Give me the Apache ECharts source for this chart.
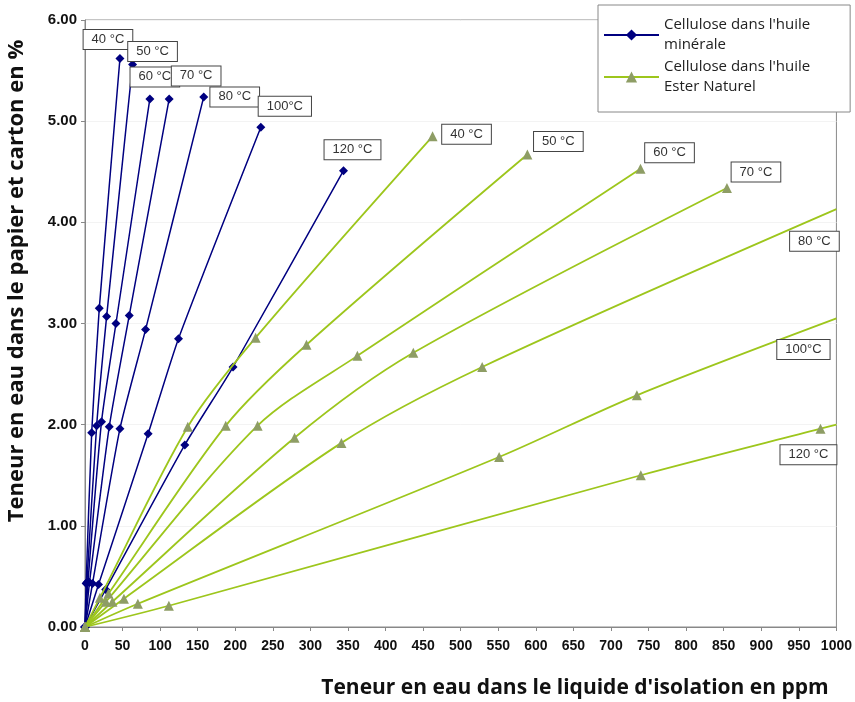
<!DOCTYPE html>
<html><head><meta charset="utf-8">
<script src="https://cdn.jsdelivr.net/npm/echarts@6/dist/echarts.min.js"></script>
<style>html,body{margin:0;padding:0;background:#fff}#c{width:855px;height:702px}</style>
</head><body><div id="c"></div>
<script>
// ---- Data (ppm, % water) ----
const temperatureLabels = ['40 °C', '50 °C', '60 °C', '70 °C', '80 °C', '100°C', '120 °C'];
const xTicks = { min: 0, max: 1000, step: 50 };
const yTicks = { min: 0, max: 6, step: 1 };

// Cellulose in mineral oil
const mineral40  = [[0,0],[1.5,0.43],[8.9,1.92],[19,3.15],[46.5,5.62]];
const mineral50  = [[0,0],[2.5,0.44],[15.5,1.99],[28.8,3.07],[63.3,5.56]];
const mineral60  = [[0,0],[4,0.45],[22,2.03],[41.2,3.0],[86.3,5.22]];
const mineral70  = [[0,0],[6,0.44],[32.3,1.98],[58.9,3.08],[112,5.22]];
const mineral80  = [[0,0],[10,0.43],[46.5,1.96],[80.6,2.94],[158,5.24]];
const mineral100 = [[0,0],[18,0.42],[84,1.91],[124.4,2.85],[234,4.94]];
const mineral120 = [[0,0],[27.5,0.37],[132.8,1.80],[197,2.57],[344,4.51]];

// Cellulose in natural ester
const ester40  = [[0,0],[19.9,0.29],[136.8,1.98],[227.1,2.86],[462.5,4.85]];
const ester50  = [[0,0],[31.2,0.33],[187.3,1.99],[294.8,2.79],[588.7,4.67]];
const ester60  = [[0,0],[27.9,0.25],[229.7,1.99],[362.5,2.68],[739.3,4.53]];
const ester70  = [[0,0],[36.5,0.25],[278.9,1.87],[436.9,2.71],[854.3,4.34]];
const ester80  = [[0,0],[51.8,0.28],[341.3,1.82],[528.6,2.57],[1000,4.13]];
const ester100 = [[0,0],[70.4,0.23],[551.1,1.68],[734.4,2.29],[1000,3.05]];
const ester120 = [[0,0],[111.6,0.21],[739.7,1.50],[978.8,1.96],[1000,2.00]];
// whether the last point of each ester curve is a measured point (else curve extension)
const esterLastMeasured = [true, true, true, true, false, false, false];

const MINERAL = "Cellulose dans l'huile\nminérale";
const ESTER = "Cellulose dans l'huile\nEster Naturel";

const mineralCurves = [mineral40, mineral50, mineral60, mineral70, mineral80, mineral100, mineral120];
const esterCurves = [ester40, ester50, ester60, ester70, ester80, ester100, ester120];

// ---- Styles ----
const mineralLabelOffset = [[-12,-19],[20,-13],[5,-22],[27,-23],[31,0],[24,-21],[9,-21]];
const esterLabelOffset = [[34,-2],[31,-13],[29,-16],[29,-16],[-22,32],[-33,31],[-28,30]];
const boxLabel = {
  show: true, position: 'inside', color: '#333', fontFamily: 'Liberation Sans, Arial, sans-serif',
  fontSize: 13, backgroundColor: '#fff', borderColor: '#444', borderWidth: 1, padding: [3, 8, 3, 8]
};

const series = [];
mineralCurves.forEach((pts, k) => {
  series.push({
    type: 'line', name: MINERAL, smooth: 0.2, z: 2,
    symbol: 'diamond', symbolSize: 9,
    itemStyle: { color: '#000080' },
    lineStyle: { color: '#000080', width: 1.5 },
    data: pts.map((p, i) => i === pts.length - 1
      ? { value: p, label: Object.assign({}, boxLabel, { formatter: temperatureLabels[k], offset: mineralLabelOffset[k] }) }
      : p)
  });
});
esterCurves.forEach((pts, k) => {
  series.push({
    type: 'line', name: ESTER, smooth: 0.3, z: 3,
    symbol: 'triangle', symbolSize: 10,
    itemStyle: { color: '#8e9d65' },
    lineStyle: { color: '#9dc61c', width: 1.8 },
    data: pts.map((p, i) => {
      if (i !== pts.length - 1) return p;
      const item = { value: p, label: Object.assign({}, boxLabel, { formatter: temperatureLabels[k], offset: esterLabelOffset[k] }) };
      if (!esterLastMeasured[k]) { item.symbolSize = 0.01; item.itemStyle = { color: 'rgba(0,0,0,0)' }; }
      return item;
    })
  });
});

const chart = echarts.init(document.getElementById('c'), null, { renderer: 'canvas' });
chart.setOption({
  animation: false,
  backgroundColor: '#fff',
  grid: { left: 85, right: 17, top: 20, bottom: 75, show: true, borderColor: '#8a8a8a', borderWidth: 1 },
  legend: {
    data: [MINERAL, ESTER], orient: 'vertical', left: 598, top: 5,
    backgroundColor: '#fff', borderColor: '#888', borderWidth: 1,
    padding: [10, 40, 15, 5], itemGap: 2, itemWidth: 55, itemHeight: 14,
    textStyle: { fontFamily: 'Open Sans, sans-serif', fontSize: 15, color: '#222', lineHeight: 20 }
  },
  xAxis: {
    type: 'value', min: xTicks.min, max: xTicks.max, interval: xTicks.step,
    axisLine: { show: true, lineStyle: { color: '#888' } },
    axisTick: { show: true, length: 4, lineStyle: { color: '#888' } },
    splitLine: { show: false },
    axisLabel: { margin: 12, fontFamily: 'Liberation Sans, Arial, sans-serif', fontWeight: 'bold', fontSize: 14, color: '#111',
      formatter: v => String(v) }
  },
  yAxis: {
    type: 'value', min: yTicks.min, max: yTicks.max, interval: yTicks.step,
    axisLine: { show: true, lineStyle: { color: '#888' } },
    axisTick: { show: true, length: 4, lineStyle: { color: '#888' } },
    splitLine: { show: true, lineStyle: { color: '#f3f3f3' } },
    axisLabel: { margin: 8, fontFamily: 'Liberation Sans, Arial, sans-serif', fontWeight: 'bold', fontSize: 15, color: '#111',
      formatter: v => v.toFixed(2) }
  },
  graphic: [
    { type: 'text', x: 17, y: 281, rotation: Math.PI / 2,
      style: { text: 'Teneur en eau dans le papier et carton en %', fontFamily: 'Open Sans, sans-serif', fontWeight: 'bold',
        fontSize: 22, fill: '#111', align: 'center', verticalAlign: 'middle' } },
    { type: 'text', x: 575, y: 688,
      style: { text: "Teneur en eau dans le liquide d'isolation en ppm", fontFamily: 'Open Sans, sans-serif', fontWeight: 'bold',
        fontSize: 21, fill: '#111', align: 'center', verticalAlign: 'middle' } }
  ],
  series: series
});
</script></body></html>
